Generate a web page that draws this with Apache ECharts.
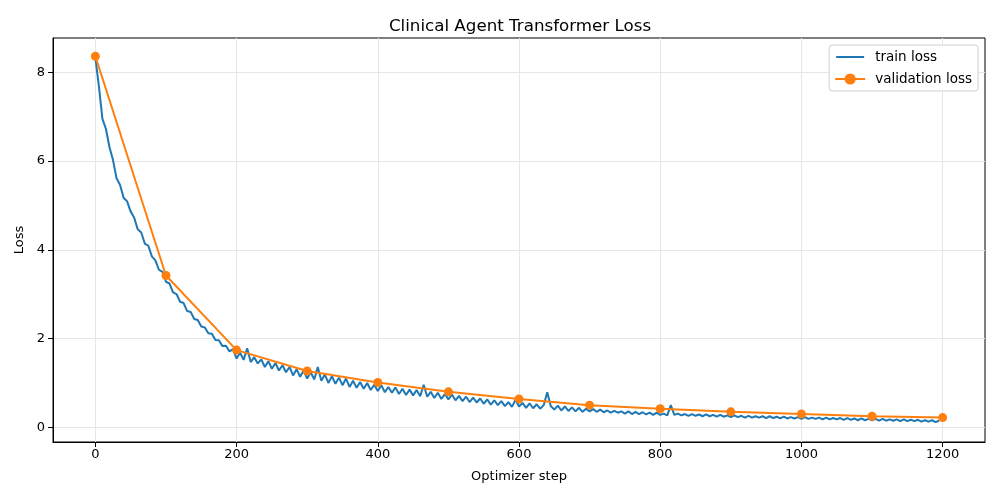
<!DOCTYPE html>
<html>
<head>
<meta charset="utf-8">
<script src="https://cdn.jsdelivr.net/npm/echarts@6/dist/echarts.min.js"></script>
<style>
  html, body { margin: 0; padding: 0; background: #fff; }
  #chart { width: 1000px; height: 500px; }
</style>
</head>
<body>
<div id="chart"></div>
<script>
// train loss, one value every 5 optimizer steps (0..1195)
const trainStepSize = 5;
const trainLoss = [
  8.33, 7.68, 6.95, 6.72, 6.31, 6.02, 5.61, 5.46, 5.17, 5.09,
  4.86, 4.72, 4.46, 4.39, 4.14, 4.09, 3.85, 3.76, 3.55, 3.50,
  3.28, 3.24, 3.04, 3.00, 2.83, 2.80, 2.62, 2.60, 2.44, 2.42,
  2.27, 2.25, 2.12, 2.11, 1.97, 1.96, 1.83, 1.84, 1.71, 1.76,
  1.55, 1.68, 1.52, 1.78, 1.47, 1.58, 1.44, 1.53, 1.36, 1.49,
  1.32, 1.45, 1.28, 1.40, 1.24, 1.36, 1.17, 1.31, 1.14, 1.28,
  1.10, 1.24, 1.08, 1.36, 1.05, 1.19, 1.00, 1.15, 0.98, 1.12,
  0.95, 1.10, 0.91, 1.05, 0.89, 1.02, 0.87, 1.00, 0.84, 0.96,
  0.82, 0.95, 0.79, 0.91, 0.78, 0.90, 0.75, 0.87, 0.73, 0.85,
  0.72, 0.84, 0.70, 0.96, 0.69, 0.80, 0.66, 0.78, 0.64, 0.75,
  0.63, 0.74, 0.61, 0.71, 0.59, 0.69, 0.57, 0.67, 0.56, 0.65,
  0.53, 0.63, 0.51, 0.61, 0.50, 0.59, 0.48, 0.57, 0.46, 0.62,
  0.47, 0.55, 0.44, 0.54, 0.43, 0.52, 0.42, 0.50, 0.79, 0.48,
  0.40, 0.49, 0.38, 0.47, 0.37, 0.45, 0.36, 0.44, 0.35, 0.42,
  0.36, 0.41, 0.35, 0.40, 0.34, 0.38, 0.33, 0.37, 0.33, 0.36,
  0.31, 0.36, 0.30, 0.35, 0.30, 0.34, 0.29, 0.33, 0.28, 0.33,
  0.28, 0.31, 0.27, 0.50, 0.28, 0.31, 0.27, 0.30, 0.26, 0.30,
  0.26, 0.29, 0.25, 0.29, 0.25, 0.28, 0.24, 0.28, 0.24, 0.27,
  0.23, 0.27, 0.23, 0.26, 0.22, 0.26, 0.22, 0.25, 0.22, 0.25,
  0.21, 0.25, 0.21, 0.24, 0.20, 0.24, 0.20, 0.23, 0.20, 0.23,
  0.19, 0.23, 0.19, 0.22, 0.19, 0.22, 0.18, 0.22, 0.18, 0.21,
  0.18, 0.21, 0.17, 0.21, 0.17, 0.20, 0.16, 0.20, 0.16, 0.19,
  0.16, 0.19, 0.15, 0.19, 0.15, 0.18, 0.15, 0.18, 0.14, 0.18,
  0.14, 0.17, 0.14, 0.17, 0.13, 0.16, 0.13, 0.16, 0.12, 0.15
];

const valSteps = [0, 100, 200, 300, 400, 500, 600, 700, 800, 900, 1000, 1100, 1200];
const valLoss = [8.36, 3.42, 1.74, 1.27, 1.01, 0.80, 0.64, 0.50, 0.42, 0.35, 0.30, 0.25, 0.22];

const xTicks = [0, 200, 400, 600, 800, 1000, 1200];
const yTicks = [0, 2, 4, 6, 8];

const font = 'DejaVu Sans';
const chart = echarts.init(document.getElementById('chart'));

const trainData = trainLoss.map((v, i) => [i * trainStepSize, v]);
const valData = valSteps.map((s, i) => [s, valLoss[i]]);

const gridLine = {show: true, lineStyle: {color: '#e6e6e6', width: 1}};
// plain thin bar for the train legend entry (moveTo points pin the box to 28x14)
const lineIcon = 'path://M0,0 M28,14 M0,6 L28,6 L28,8 L0,8 Z';

chart.setOption({
  animation: false,
  backgroundColor: '#fff',
  title: {
    text: 'Clinical Agent Transformer Loss',
    left: 515, top: 13, textAlign: 'center',
    textStyle: {fontFamily: font, fontSize: 16.7, fontWeight: 'normal', color: '#000'}
  },
  legend: {
    orient: 'vertical', right: 22, top: 45,
    backgroundColor: '#fff', borderColor: '#d0d0d0', borderWidth: 1, borderRadius: 3,
    padding: [5, 6, 5, 5], itemGap: 8, itemWidth: 30, itemHeight: 14,
    textStyle: {fontFamily: font, fontSize: 13.5, color: '#000', padding: [0, 0, 0, 5]},
    data: [
      {name: 'train loss', icon: lineIcon},
      {name: 'validation loss'}
    ]
  },
  grid: {
    left: 53, right: 15, top: 38, bottom: 58,
    show: true, borderColor: '#000', borderWidth: 1, backgroundColor: 'transparent'
  },
  xAxis: {
    type: 'value', min: -60, max: 1260,
    name: 'Optimizer step', nameLocation: 'middle', nameGap: 28,
    nameTextStyle: {fontFamily: font, fontSize: 13, color: '#000'},
    axisLine: {show: true, onZero: false, lineStyle: {color: '#000'}},
    axisTick: {show: true, length: 5, customValues: xTicks, lineStyle: {color: '#000'}},
    axisLabel: {customValues: xTicks, formatter: v => String(v), fontFamily: font, fontSize: 13, color: '#000', margin: 6},
    splitLine: gridLine
  },
  yAxis: {
    type: 'value', min: -0.33, max: 8.77,
    name: 'Loss', nameLocation: 'middle', nameGap: 25, nameRotate: 90,
    nameTextStyle: {fontFamily: font, fontSize: 13, color: '#000'},
    axisLine: {show: true, onZero: false, lineStyle: {color: '#000'}},
    axisTick: {show: true, length: 5, customValues: yTicks, lineStyle: {color: '#000'}},
    axisLabel: {customValues: yTicks, formatter: v => String(v), fontFamily: font, fontSize: 13, color: '#000', margin: 8},
    splitLine: gridLine
  },
  series: [
    {
      name: 'train loss', type: 'line', data: trainData,
      showSymbol: false, symbol: 'none',
      lineStyle: {color: '#1f77b4', width: 2},
      itemStyle: {color: '#1f77b4'}, z: 2
    },
    {
      name: 'validation loss', type: 'line', data: valData,
      symbol: 'circle', symbolSize: 9,
      lineStyle: {color: '#ff7f0e', width: 2},
      itemStyle: {color: '#ff7f0e'}, z: 3
    }
  ]
});
</script>
</body>
</html>
